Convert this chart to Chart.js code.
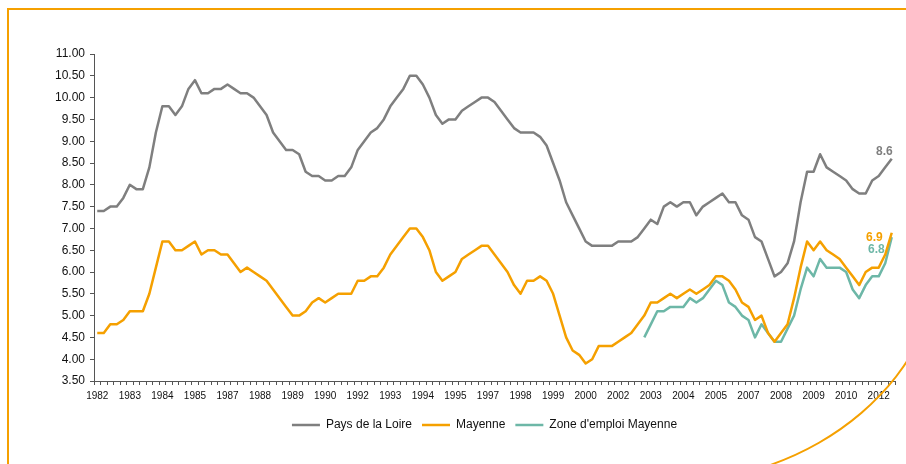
<!DOCTYPE html>
<html>
<head>
<meta charset="utf-8">
<script src="https://cdn.jsdelivr.net/npm/chart.js@4.4.1/dist/chart.umd.min.js"></script>
<style>
html, body { margin: 0; padding: 0; background: #fff; overflow: hidden; }
#wrap { position: relative; width: 906px; height: 464px; }
#frame {
  position: absolute; left: 7px; top: 8px; width: 933px; height: 472px;
  border: 2px solid #f5a000; border-bottom-right-radius: 280px 240px;
  pointer-events: none;
}
</style>
</head>
<body>
<div id="wrap">
  <canvas id="chomage" width="906" height="464"></canvas>
  <div id="frame"></div>
</div>
<script>
// taux de chomage trimestriel, 1982 T1 -> 2012 T3
const firstYear = 1982;
const nbQuarters = 123;
const tickLabels = ['1982', '1983', '1984', '1985', '1987', '1988', '1989', '1990', '1992', '1993', '1994', '1995',
  '1997', '1998', '1999', '2000', '2002', '2003', '2004', '2005', '2007', '2008', '2009', '2010', '2012'];

const paysDeLaLoire = [
  7.4, 7.4, 7.5, 7.5, 7.7, 8.0, 7.9, 7.9, 8.4, 9.2,
  9.8, 9.8, 9.6, 9.8, 10.2, 10.4, 10.1, 10.1, 10.2, 10.2,
  10.3, 10.2, 10.1, 10.1, 10.0, 9.8, 9.6, 9.2, 9.0, 8.8,
  8.8, 8.7, 8.3, 8.2, 8.2, 8.1, 8.1, 8.2, 8.2, 8.4,
  8.8, 9.0, 9.2, 9.3, 9.5, 9.8, 10.0, 10.2, 10.5, 10.5,
  10.3, 10.0, 9.6, 9.4, 9.5, 9.5, 9.7, 9.8, 9.9, 10.0,
  10.0, 9.9, 9.7, 9.5, 9.3, 9.2, 9.2, 9.2, 9.1, 8.9,
  8.5, 8.1, 7.6, 7.3, 7.0, 6.7, 6.6, 6.6, 6.6, 6.6,
  6.7, 6.7, 6.7, 6.8, 7.0, 7.2, 7.1, 7.5, 7.6, 7.5,
  7.6, 7.6, 7.3, 7.5, 7.6, 7.7, 7.8, 7.6, 7.6, 7.3,
  7.2, 6.8, 6.7, 6.3, 5.9, 6.0, 6.2, 6.7, 7.6, 8.3,
  8.3, 8.7, 8.4, 8.3, 8.2, 8.1, 7.9, 7.8, 7.8, 8.1,
  8.2, 8.4, 8.6
];

const mayenne = [
  4.6, 4.6, 4.8, 4.8, 4.9, 5.1, 5.1, 5.1, 5.5, 6.1,
  6.7, 6.7, 6.5, 6.5, 6.6, 6.7, 6.4, 6.5, 6.5, 6.4,
  6.4, 6.2, 6.0, 6.1, 6.0, 5.9, 5.8, 5.6, 5.4, 5.2,
  5.0, 5.0, 5.1, 5.3, 5.4, 5.3, 5.4, 5.5, 5.5, 5.5,
  5.8, 5.8, 5.9, 5.9, 6.1, 6.4, 6.6, 6.8, 7.0, 7.0,
  6.8, 6.5, 6.0, 5.8, 5.9, 6.0, 6.3, 6.4, 6.5, 6.6,
  6.6, 6.4, 6.2, 6.0, 5.7, 5.5, 5.8, 5.8, 5.9, 5.8,
  5.5, 5.0, 4.5, 4.2, 4.1, 3.9, 4.0, 4.3, 4.3, 4.3,
  4.4, 4.5, 4.6, 4.8, 5.0, 5.3, 5.3, 5.4, 5.5, 5.4,
  5.5, 5.6, 5.5, 5.6, 5.7, 5.9, 5.9, 5.8, 5.6, 5.3,
  5.2, 4.9, 5.0, 4.6, 4.4, 4.6, 4.8, 5.4, 6.1, 6.7,
  6.5, 6.7, 6.5, 6.4, 6.3, 6.1, 5.9, 5.7, 6.0, 6.1,
  6.1, 6.4, 6.9
];

// la zone d'emploi n'est connue qu'a partir de 2003 T1
const zoneEmploiStart = 84;
const zoneEmploi = [
  4.5, 4.8, 5.1, 5.1, 5.2, 5.2, 5.2, 5.4, 5.3,
  5.4, 5.6, 5.8, 5.7, 5.3, 5.2, 5.0, 4.9, 4.5, 4.8,
  4.6, 4.4, 4.4, 4.7, 5.0, 5.6, 6.1, 5.9, 6.3, 6.1,
  6.1, 6.1, 6.0, 5.6, 5.4, 5.7, 5.9, 5.9, 6.2, 6.8
];

const grey = '#7f7f7f';
const orange = '#f5a000';
const teal = '#6db7a7';
const fontName = '"Liberation Sans", Arial, sans-serif';

const quarters = [];
for (let i = 0; i < nbQuarters; i++) {
  quarters.push((firstYear + Math.floor(i / 4)) + ' T' + (i % 4 + 1));
}

// decalage des etiquettes de fin de courbe
const labelShift = [[1, -7], [-9, 5], [-7, 13]];

const endLabels = {
  id: 'endLabels',
  afterDatasetsDraw(chart) {
    const ctx = chart.ctx;
    ctx.save();
    ctx.font = 'bold 12px ' + fontName;
    ctx.textAlign = 'right';
    ctx.textBaseline = 'middle';
    chart.data.datasets.forEach((ds, i) => {
      const pts = chart.getDatasetMeta(i).data;
      const p = pts[pts.length - 1];
      const v = ds.data[ds.data.length - 1];
      ctx.fillStyle = ds.borderColor;
      ctx.fillText(v.toFixed(1), p.x + labelShift[i][0], p.y + labelShift[i][1]);
    });
    ctx.restore();
  }
};

// legende centree sous la zone de trace plutot que sous tout le canevas
const legendShift = {
  id: 'legendShift',
  afterLayout(chart) {
    chart.legend.left += 24;
  }
};

const axisColor = '#555555';

new Chart(document.getElementById('chomage').getContext('2d'), {
  type: 'line',
  data: {
    labels: quarters,
    datasets: [{
      label: 'Pays de la Loire',
      data: paysDeLaLoire,
      borderColor: grey,
      backgroundColor: grey,
      borderWidth: 2.5
    }, {
      label: 'Mayenne',
      data: mayenne,
      borderColor: orange,
      backgroundColor: orange,
      borderWidth: 2.5
    }, {
      label: "Zone d'emploi Mayenne",
      data: Array(zoneEmploiStart).fill(null).concat(zoneEmploi),
      borderColor: teal,
      backgroundColor: teal,
      borderWidth: 2.5
    }]
  },
  options: {
    responsive: false,
    animation: false,
    events: [],
    elements: {
      line: { tension: 0, borderJoinStyle: 'round' },
      point: { radius: 0 }
    },
    layout: {
      padding: { left: 50, right: 11, top: 54, bottom: 23 }
    },
    scales: {
      x: {
        offset: true,
        afterFit(scale) { scale.height = 28; },
        grid: {
          offset: true,
          drawOnChartArea: false,
          tickLength: 4,
          color: axisColor
        },
        border: { color: axisColor, width: 1 },
        ticks: {
          autoSkip: false,
          maxRotation: 0,
          padding: 5,
          color: '#111',
          font: { family: fontName, size: 10 },
          callback: (v, i) => (i % 5 === 0 ? tickLabels[i / 5] : '')
        }
      },
      y: {
        min: 3.5,
        max: 11,
        afterFit(scale) { scale.width = 44; },
        grid: {
          drawOnChartArea: false,
          tickLength: 4,
          color: axisColor
        },
        border: { color: axisColor, width: 1 },
        ticks: {
          stepSize: 0.5,
          padding: 5,
          color: '#111',
          font: { family: fontName, size: 12 },
          callback: v => v.toFixed(2)
        }
      }
    },
    plugins: {
      tooltip: { enabled: false },
      legend: {
        position: 'bottom',
        labels: {
          usePointStyle: true,
          pointStyle: 'line',
          pointStyleWidth: 28,
          padding: 10,
          color: '#111',
          font: { family: fontName, size: 12 }
        }
      }
    }
  },
  plugins: [endLabels, legendShift]
});
</script>
</body>
</html>
